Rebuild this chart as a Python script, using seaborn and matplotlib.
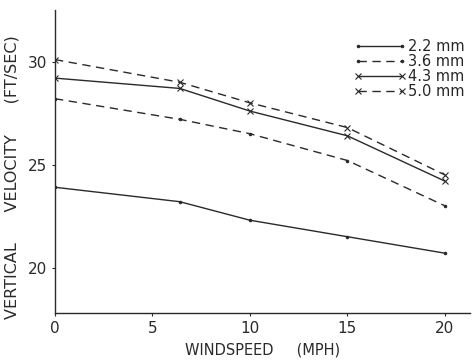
import matplotlib
matplotlib.use("Agg")
import matplotlib.pyplot as plt
import numpy as np
import pandas as pd
import seaborn as sns

WINDSPEED = [0, 6.4, 10, 15, 20]
DROP_22 = [23.9, 23.2, 22.3, 21.5, 20.7]
DROP_36 = [28.2, 27.2, 26.5, 25.2, 23.0]
DROP_43 = [29.2, 28.7, 27.6, 26.4, 24.2]
DROP_50 = [30.1, 29.0, 28.0, 26.8, 24.5]
SIZES = ["2.2 mm", "3.6 mm", "4.3 mm", "5.0 mm"]
MARKERS = [".", ".", "x", "x"]
DASHED = [False, True, False, True]

sns.set_style("ticks")
plt.rcParams["font.family"] = ["DejaVu Sans"]

fig = plt.figure(figsize=(4.74, 3.63), dpi=100)
ax = fig.add_axes([0.116, 0.138, 0.876, 0.834])

ink = "#2a2a2a"
for size, vals, mk, dashed in zip(SIZES, [DROP_22, DROP_36, DROP_43, DROP_50], MARKERS, DASHED):
    sns.lineplot(x=WINDSPEED, y=vals, color=ink, marker=mk,
                 markersize=4 if mk == "x" else 3.5, markeredgewidth=0.8,
                 markeredgecolor=ink,
                 linestyle=(0, (6, 4)) if dashed else "-",
                 linewidth=1.0, label=size, ax=ax)

handles, labels = ax.get_legend_handles_labels()
ax.legend(handles, labels, numpoints=2, frameon=False, loc="upper right",
          bbox_to_anchor=(1.0, 0.925), handlelength=3.6, handletextpad=0.1,
          labelspacing=0.0, fontsize=10.5, borderaxespad=0)

ax.set_xlim(0, 21.3)
ax.set_ylim(17.8, 32.5)
ax.set_xticks([0, 5, 10, 15, 20])
ax.set_yticks([20, 25, 30])
ax.tick_params(labelsize=11, length=2, width=0.8, colors=ink)
for s in ["top", "right"]:
    ax.spines[s].set_visible(False)
for s in ["left", "bottom"]:
    ax.spines[s].set_color(ink)
    ax.spines[s].set_linewidth(1.0)

ax.set_xlabel("WINDSPEED     (MPH)", fontsize=10.5, color=ink, labelpad=5)
ax.set_ylabel("VERTICAL      VELOCITY      (FT/SEC)", fontsize=11.5, color=ink)
ax.yaxis.set_label_coords(-0.085, 0.45)

fig.savefig("out.png", dpi=100)
